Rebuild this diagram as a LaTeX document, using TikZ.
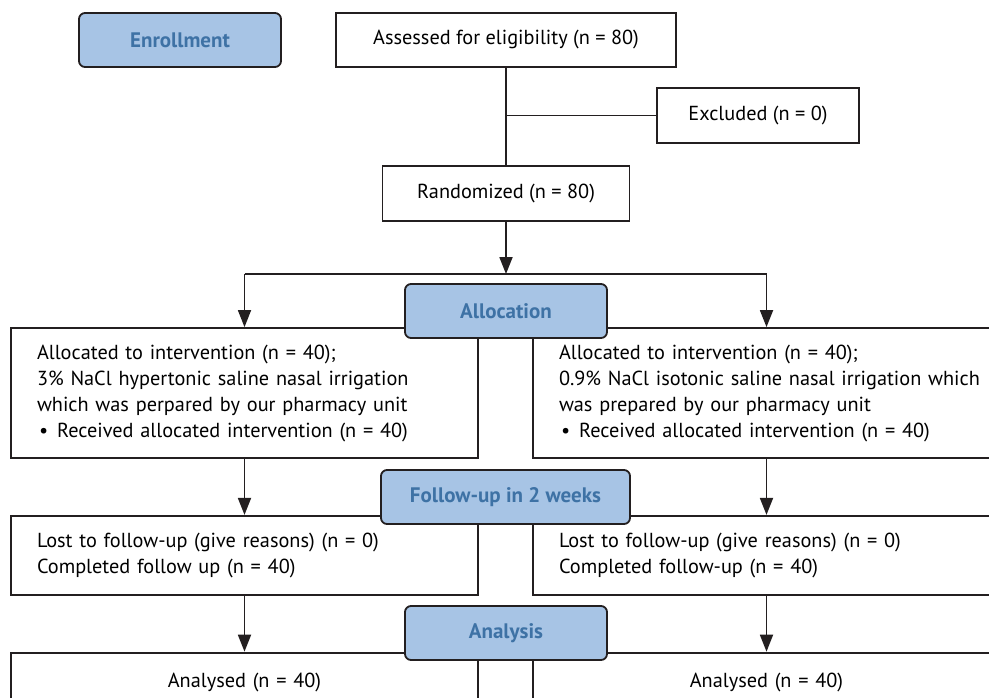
\documentclass[tikz,border=0pt]{standalone}
\usepackage{fontspec}
\setmainfont{PT Sans}
\usetikzlibrary{arrows.meta,positioning}
\definecolor{labelblue}{HTML}{A7C4E5}
\definecolor{textblue}{HTML}{3E72A5}
\definecolor{darkline}{HTML}{231F20}

\begin{document}
\begin{tikzpicture}[x=1pt,y=-1pt,
  box/.style={draw=darkline,line width=1.8pt,fill=white,minimum height=54pt,align=center,inner sep=0pt,font=\fontsize{20.3}{26}\selectfont},
  arm/.style={box,inner xsep=26pt,text width=415pt,align=left},
  tag/.style={draw=darkline,line width=1.8pt,fill=labelblue,rounded corners=6pt,minimum width=202pt,minimum height=54pt,text=textblue,font=\fontsize{21}{26}\selectfont\bfseries},
  ln/.style={draw=darkline,line width=1.8pt},
  arr/.style={ln,-{Triangle[length=17pt,width=13pt]}}
  ]
  \useasboundingbox (0,0) rectangle (989,697);
  \clip (0,0) rectangle (989,697);

  % enrollment
  \node[tag] (enrol) at (180,40) {Enrollment};
  \node[box,minimum width=340pt] (assess) at (506,40) {Assessed for eligibility (n = 80)};
  \node[box,minimum width=202pt,minimum height=55pt] (excl) at (758,115.5) {Excluded (n = 0)};
  \node[box,minimum width=247pt,minimum height=55pt] (rand) [below=97pt of assess] {Randomized (n = 80)};

  % arms
  \node[arm,minimum height=130pt] (alloc1) at (244.5,393) {Allocated to intervention (n = 40);\\
    3\% NaCl hypertonic saline nasal irrigation\\
    which was perpared by our pharmacy unit\\
    \hspace{2pt}\textbullet\hspace{9pt}Received allocated intervention (n = 40)};
  \node[arm,minimum height=130pt] (alloc2) at (766.5,393) {Allocated to intervention (n = 40);\\
    \mbox{0.9\% NaCl isotonic saline nasal irrigation which}\\
    was prepared by our pharmacy unit\\
    \hspace{2pt}\textbullet\hspace{9pt}Received allocated intervention (n = 40)};
  \node[arm,minimum height=79pt] (fu1) [below=56pt of alloc1] {Lost to follow-up (give reasons) (n = 0)\\
    Completed follow up (n = 40)};
  \node[arm,minimum height=79pt] (fu2) [below=56pt of alloc2] {Lost to follow-up (give reasons) (n = 0)\\
    Completed follow-up (n = 40)};
  \node[arm,align=center,minimum height=60pt] (an1) [below=56pt of fu1] {Analysed (n = 40)};
  \node[arm,align=center,minimum height=60pt] (an2) [below=56pt of fu2] {Analysed (n = 40)};

  % connectors
  \coordinate (split) at (506,274);
  \draw[ln] (assess) -- (rand);
  \draw[ln] (assess |- excl) -- (excl);
  \draw[arr] (rand) -- (split);
  \draw[ln] (alloc1.north |- split) -- (alloc2.north |- split);
  \draw[arr] (alloc1.north |- split) -- (alloc1);
  \draw[arr] (alloc2.north |- split) -- (alloc2);
  \draw[arr] (alloc1) -- (fu1);
  \draw[arr] (alloc2) -- (fu2);
  \draw[arr] (fu1) -- (an1);
  \draw[arr] (fu2) -- (an2);

  % stage tags
  \node[tag] (tagalloc) at (506,311) {Allocation};
  \node[tag,minimum width=249pt] (tagfu) at (505.5,497) {Follow-up in 2 weeks};
  \node[tag] (tagan) at (506,633) {Analysis};
\end{tikzpicture}
\end{document}
